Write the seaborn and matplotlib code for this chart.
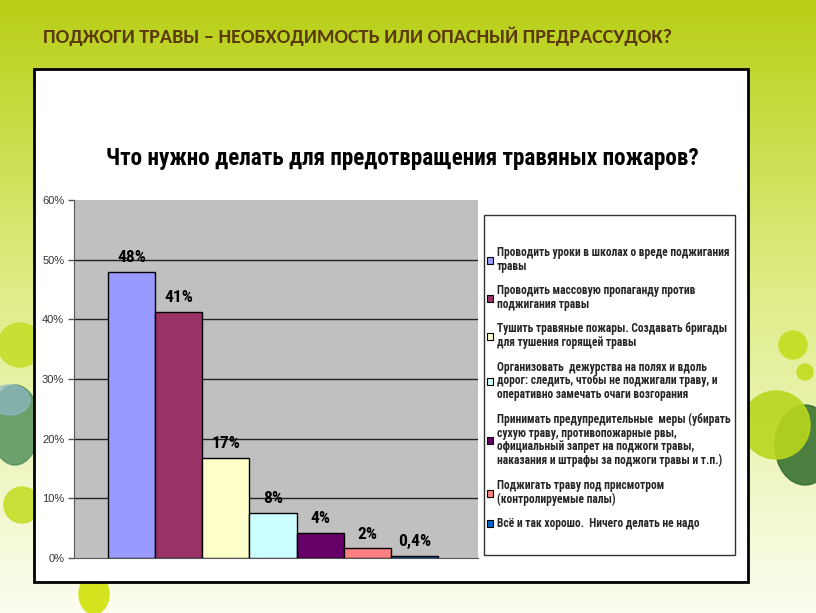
import numpy as np
import pandas as pd
import matplotlib
matplotlib.use("Agg")
import matplotlib.pyplot as plt
from matplotlib.patches import Rectangle, Circle, Ellipse, Patch
from matplotlib.ticker import PercentFormatter
import seaborn as sns

# ---- data ----
categories = [
    "Проводить уроки в школах о вреде поджигания\nтравы",
    "Проводить массовую пропаганду против\nподжигания травы",
    "Тушить травяные пожары. Создавать бригады\nдля тушения горящей травы",
    "Организовать  дежурства на полях и вдоль\nдорог: следить, чтобы не поджигали траву, и\nоперативно замечать очаги возгорания",
    "Принимать предупредительные  меры (убирать\nсухую траву, противопожарные рвы,\nофициальный запрет на поджоги травы,\nнаказания и штрафы за поджоги травы и т.п.)",
    "Поджигать траву под присмотром\n(контролируемые палы)",
    "Всё и так хорошо.  Ничего делать не надо",
]
values = [48.0, 41.3, 16.8, 7.5, 4.2, 1.6, 0.4]
value_labels = ["48%", "41%", "17%", "8%", "4%", "2%", "0,4%"]
colors = ["#9999FF", "#993366", "#FFFFCC", "#CCFFFF", "#660066", "#FF8080", "#0066CC"]
y_ticks = [0, 10, 20, 30, 40, 50, 60]

slide_title = "ПОДЖОГИ ТРАВЫ – НЕОБХОДИМОСТЬ ИЛИ ОПАСНЫЙ ПРЕДРАССУДОК?"
chart_title = "Что нужно делать для предотвращения травяных пожаров?"

# ---- fonts ----
sns.set_style("white")
plt.rcParams["font.family"] = ["Liberation Sans", "DejaVu Sans"]
NARROW = ["Roboto Condensed", "PT Sans Narrow", "DejaVu Sans"]
CALIBRI = ["Carlito", "DejaVu Sans"]

W, H = 816, 613
fig = plt.figure(figsize=(W / 100, H / 100), dpi=100)

def fx(x):
    return x / W

def fy(y):
    return 1 - y / H

# ---- slide background ----
bg = fig.add_axes([0, 0, 1, 1], zorder=-10)
grad = np.linspace(0, 1, 300)[:, None]
top = np.array([184, 207, 22]) / 255
mid = np.array([222, 236, 130]) / 255
bot = np.array([252, 253, 240]) / 255
t = grad[..., None]
img = np.where(t < 0.45, top + (mid - top) * (t / 0.45), mid + (bot - mid) * ((t - 0.45) / 0.55))
img = np.repeat(img, 2, axis=1)
bg.imshow(img, aspect="auto", extent=[0, W, H, 0])
bg.set_xlim(0, W)
bg.set_ylim(H, 0)
bg.axis("off")
# decorative shapes
bg.add_patch(Ellipse((805, 445), 60, 80, color="#2E6B2A", alpha=0.85))
bg.add_patch(Circle((776, 425), 34, color="#B9D61E", alpha=0.9))
bg.add_patch(Circle((793, 345), 14, color="#C6DE2A"))
bg.add_patch(Circle((805, 372), 8, color="#C6DE2A"))
bg.add_patch(Ellipse((15, 425), 50, 80, color="#4C8C5A", alpha=0.8))
bg.add_patch(Ellipse((10, 400), 40, 30, color="#8FB8C8", alpha=0.7))
bg.add_patch(Circle((20, 345), 22, color="#C6DE2A", alpha=0.9))
bg.add_patch(Circle((22, 505), 18, color="#C6DE2A", alpha=0.9))
bg.add_patch(Ellipse((94, 594), 30, 40, color="#D4E41E"))
# chart box
bg.add_patch(Rectangle((34, 69), 714, 513, facecolor="white", edgecolor="black", lw=2))
# legend box
bg.add_patch(Rectangle((484, 215), 251, 340, facecolor="white", edgecolor="#333333", lw=1))

fig.text(fx(43), fy(36), slide_title, family=CALIBRI, fontweight="bold",
         fontsize=14.5, color="#5A3A08", va="center", ha="left")
fig.text(fx(402), fy(158), chart_title, family=NARROW, fontweight="bold",
         fontsize=16.7, color="black", va="center", ha="center")

# ---- chart ----
ax = fig.add_axes([fx(74), fy(558), fx(478) - fx(74), fy(200) - fy(558)])
df = pd.DataFrame({"cat": categories, "val": values})
sns.barplot(data=df, x="cat", y="val", hue="cat", palette=colors, width=1.0,
            edgecolor="black", linewidth=1, legend=False, ax=ax, zorder=3, saturation=1)
ax.set_facecolor("#C0C0C0")
ax.set_ylim(0, 60)
ax.set_xlim(-0.5 - 34 / 47, 6.5 + 40 / 47)
ax.set_yticks(y_ticks)
ax.yaxis.set_major_formatter(PercentFormatter(decimals=0))
ax.set_xticks([])
ax.set_xlabel("")
ax.set_ylabel("")
for yv in y_ticks[1:-1]:
    ax.axhline(yv, color="#222222", lw=1, zorder=1)
for s in ["top", "right"]:
    ax.spines[s].set_visible(False)
ax.spines["left"].set_color("#555555")
ax.spines["bottom"].set_color("#555555")
ax.tick_params(axis="y", direction="out", length=4, width=1, color="#555555",
               labelsize=8, labelcolor="#333333", pad=3, left=True)

for cont, lab in zip(ax.containers, value_labels):
    ax.bar_label(cont, labels=[lab], padding=5, fontweight="bold", fontsize=12.5,
                 family=NARROW, color="black")

handles = [Patch(facecolor=c, edgecolor="black", lw=0.8) for c in colors]
leg = fig.legend(handles, categories, loc="upper left", bbox_to_anchor=(fx(487), fy(246)),
                 frameon=False, prop={"family": NARROW[0], "weight": "bold", "size": 8.3},
                 handlelength=0.55, handleheight=0.55, handletextpad=0.3,
                 labelspacing=1.0, borderaxespad=0, borderpad=0)
for txt in leg.get_texts():
    txt.set_linespacing(1.07)

fig.savefig("out.png", dpi=100)
